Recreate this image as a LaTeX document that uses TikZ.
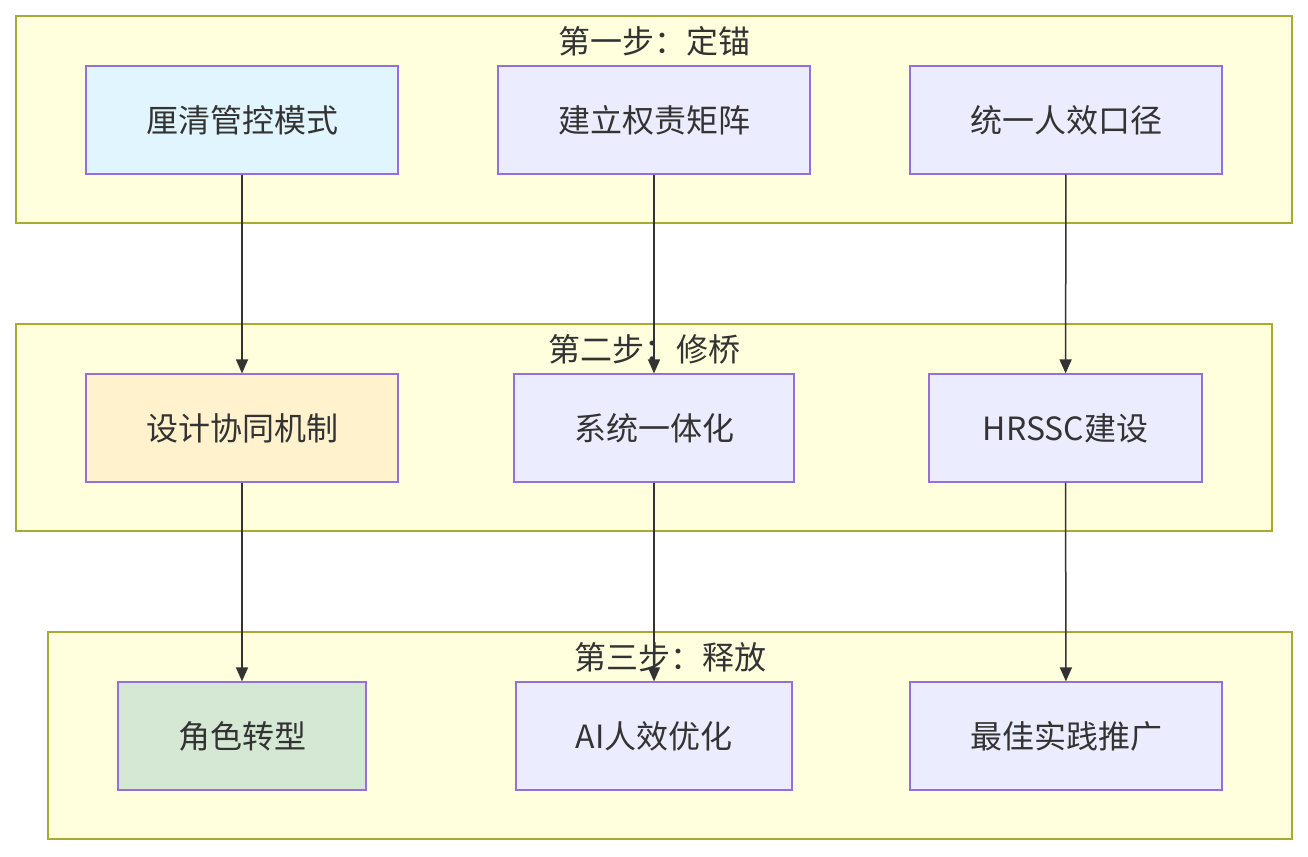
\documentclass[tikz,border=0pt]{standalone}
\usepackage{fontspec}
\setmainfont{Noto Sans CJK SC}
\usetikzlibrary{arrows.meta, positioning}
\definecolor{clusterfill}{HTML}{FFFFDE}
\definecolor{clusterline}{HTML}{AAAA33}
\definecolor{boxfill}{HTML}{ECECFF}
\definecolor{boxline}{HTML}{9370DB}
\definecolor{txt}{HTML}{333333}
\definecolor{bluefill}{HTML}{E1F5FE}
\definecolor{yellowfill}{HTML}{FFF2CC}
\definecolor{greenfill}{HTML}{D5E8D4}
\tikzset{%
	every step/.style={
		draw=clusterline,
		fill=clusterfill,
		line width=1.2pt
	},
	every task/.style={
		draw=boxline,
		fill=boxfill,
		line width=1.2pt,
		minimum height=108pt,
		text=txt,
		font=\fontsize{32}{38}\selectfont
	},
	step title/.style={
		text=txt,
		font=\fontsize{32}{38}\selectfont
	},
	flow/.style={
		draw=txt,
		line width=1.5pt,
		-{Triangle[length=14pt,width=12pt]}
	},
}
\begin{document}
\begin{tikzpicture}[x=1pt,y=-1pt]
			\useasboundingbox (0,0) rectangle (1308,856);
			
			% Step boxes
			\draw[every step] (16,16) rectangle (1292,223);
			\draw[every step] (16,324) rectangle (1272,531);
			\draw[every step] (48,632) rectangle (1292,839);
			\node[step title] (t1) at (654,41) {第一步：定锚};
			\node[step title] (t2) at (644,349) {第二步：修桥};
			\node[step title] (t3) at (670,657) {第三步：释放};
			
			% First row
			\node[every task, fill=bluefill, minimum width=312pt] (mode) at (242,120) {厘清管控模式};
			\node[every task, minimum width=312pt] (matrix) at (654,120) {建立权责矩阵};
			\node[every task, minimum width=312pt] (metric) at (1066,120) {统一人效口径};
			
			% Second row
			\node[every task, fill=yellowfill, minimum width=312pt] (collab) at (242,428) {设计协同机制};
			\node[every task, minimum width=280pt] (system) at (654,428) {系统一体化};
			\node[every task, minimum width=273pt] (hrssc) at (1065.5,428) {HRSSC建设};
			
			% Third row
			\node[every task, fill=greenfill, minimum width=248pt] (role) at (242,736) {角色转型};
			\node[every task, minimum width=276pt] (ai) at (654,736) {AI人效优化};
			\node[every task, minimum width=312pt] (best) at (1066,736) {最佳实践推广};
			
			% Arrows
			\draw[flow] (mode) -- (collab);
			\draw[flow] (matrix) -- (system);
			\draw[flow] (metric) -- (hrssc);
			\draw[flow] (collab) -- (role);
			\draw[flow] (system) -- (ai);
			\draw[flow] (hrssc) -- (best);
		\end{tikzpicture}
\end{document}
